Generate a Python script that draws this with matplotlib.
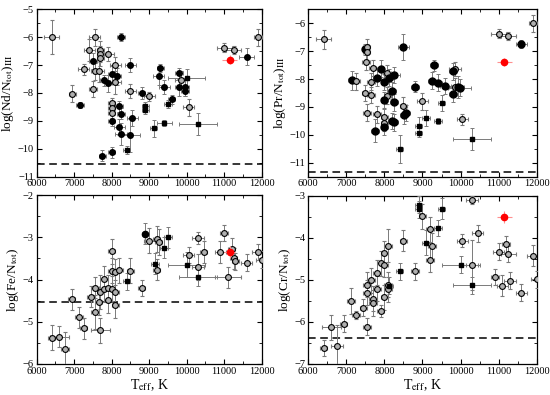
import numpy as np
import matplotlib.pyplot as plt
from matplotlib.ticker import MultipleLocator

plt.rcParams['font.family'] = ['Liberation Serif', 'DejaVu Serif']
plt.rcParams['mathtext.fontset'] = 'stix'

# --- data: Teff, abundance, errors, marker kind ---
# kinds: g = grey circle, b = black circle, s = small black square, r = red circle
nd_teff = [6400, 7550, 8250, 7400, 7700, 7700, 7900, 7700, 7500, 8500, 8100, 7250, 7550, 7650,
           8000, 8150, 7800, 7900, 8100, 7500, 8500, 6950, 7150, 8800, 9000, 8000, 8000, 8000,
           8200, 8250, 8000, 8550, 8200, 8250, 8500, 8400, 8000, 7750, 8900, 8900, 9120, 9300,
           9250, 9800, 9850, 10000, 9400, 9800, 9950, 9950, 9600, 9500, 10050, 9400, 10300,
           11000, 11250, 11150, 11600, 11900]
nd_val = [-6.0, -6.0, -6.0, -6.45, -6.45, -6.6, -6.6, -6.75, -6.85, -7.0, -7.0, -7.15, -7.22, -7.2,
          -7.32, -7.4, -7.55, -7.65, -7.62, -7.86, -7.93, -8.03, -8.43, -8.0, -8.12, -8.37, -8.55, -8.7,
          -8.47, -8.74, -9.0, -8.9, -9.22, -9.47, -9.52, -10.05, -10.13, -10.25, -8.48, -8.6, -9.27, -7.1,
          -7.4, -7.3, -7.52, -7.45, -7.8, -7.8, -7.8, -7.92, -8.23, -8.4, -8.52, -9.08, -9.1,
          -6.37, -6.45, -6.8, -6.7, -6.0]
nd_dt = [200, 150, 100, 150, 100, 100, 150, 100, 100, 150, 150, 150, 100, 150,
         100, 100, 100, 100, 150, 100, 150, 100, 100, 100, 150, 100, 100, 100,
         100, 100, 100, 150, 150, 150, 250, 100, 100, 100, 100, 100, 100, 100,
         150, 100, 150, 500, 150, 100, 100, 100, 100, 100, 150, 200, 500,
         200, 200, 200, 200, 100]
nd_dv = [0.6, 0.3, 0.15, 0.4, 0.3, 0.3, 0.25, 0.3, 0.3, 0.25, 0.3, 0.2, 0.3, 0.4,
         0.3, 0.3, 0.2, 0.3, 0.4, 0.3, 0.25, 0.3, 0.1, 0.2, 0.15, 0.2, 0.2, 0.2,
         0.2, 0.2, 0.2, 0.3, 0.3, 0.4, 0.6, 0.15, 0.2, 0.2, 0.15, 0.15, 0.3, 0.15,
         0.3, 0.2, 0.3, 0.3, 0.25, 0.3, 0.3, 0.2, 0.15, 0.15, 0.3, 0.1, 0.4,
         0.15, 0.15, 0.15, 0.3, 0.3]
nd_kind = list("ggbgggggbbgggg" + "bbbbggggbb" + "ggggbbbbbbb" + "sbbsss" + "bbbgsbbbb" + "bsgssggrbg")

pr_teff = [6400, 8500, 7500, 7530, 7530, 7520, 7690, 7900, 7800, 7150, 7250, 7650, 8000, 8070,
           8120, 8250, 8200, 7500, 7650, 8080, 8000, 8250, 8500, 9000, 8800, 7550, 7800, 8000,
           8570, 8520, 8200, 8250, 8000, 8000, 7750, 8900, 8900, 8400, 9100, 9300, 9250, 9400,
           9600, 9850, 9800, 9800, 9850, 9930, 9980, 9500, 9400, 10050, 10300, 11000, 11250,
           11600, 11150, 11900]
pr_val = [-6.58, -6.85, -6.93, -6.85, -7.03, -7.38, -7.6, -7.63, -7.95, -8.05, -8.08, -8.09, -8.11, -7.8,
          -7.95, -7.86, -8.42, -8.5, -8.57, -8.6, -8.76, -8.83, -8.95, -8.8, -8.28, -9.2, -9.27, -9.35,
          -9.22, -9.3, -9.5, -9.55, -9.58, -9.72, -9.85, -9.67, -9.92, -10.5, -9.4, -7.5, -8.06, -8.13,
          -8.25, -7.63, -7.72, -8.54, -8.28, -8.28, -8.31, -8.86, -9.5, -9.45, -10.15, -6.37, -6.45,
          -6.74, -7.4, -6.0]
pr_dt = [200, 150, 100, 100, 100, 100, 100, 100, 100, 100, 100, 100, 100, 100,
         100, 150, 100, 100, 100, 100, 100, 100, 100, 150, 100, 100, 100, 100,
         100, 100, 100, 100, 100, 100, 100, 100, 100, 100, 100, 100, 100, 100,
         150, 150, 100, 100, 150, 150, 300, 100, 100, 150, 500, 200, 200,
         150, 200, 100]
pr_dv = [0.35, 0.45, 0.2, 0.3, 0.3, 0.3, 0.3, 0.3, 0.3, 0.35, 0.3, 0.3, 0.3, 0.3,
         0.3, 0.3, 0.3, 0.3, 0.3, 0.3, 0.3, 0.3, 0.3, 0.3, 0.2, 0.3, 0.3, 0.3,
         0.3, 0.3, 0.3, 0.3, 0.3, 0.3, 0.4, 0.3, 0.15, 0.5, 0.3, 0.2, 0.3, 0.3,
         0.3, 0.25, 0.3, 0.3, 0.3, 0.4, 0.3, 0.3, 0.1, 0.2, 0.4, 0.15, 0.15,
         0.15, 0.15, 0.3]
pr_kind = list("gbbggggbbb" + "ggbgbbbggg" + "bbggbgggbb" + "bbgbbssssb" + "bbbgbbgbbs" + "sgsggbrg")

fe_teff = [6400, 6600, 6750, 6930, 7130, 7250, 7700, 7550, 7450, 7550, 7700, 7650, 7800, 7800,
           7900, 7900, 8000, 8000, 8000, 8100, 8100, 8100, 8200, 8500, 8400, 8800, 8900, 9000,
           9200, 9250, 9500, 9400, 9150, 9200, 10000, 10050, 10300, 10300, 10300, 10450, 10900,
           11000, 11100, 11200, 11150, 11250, 11300, 11600, 11900, 12000]
fe_val = [-5.38, -5.35, -5.64, -4.47, -4.89, -5.15, -5.2, -4.77, -4.41, -4.19, -4.3, -4.53, -3.98, -4.23,
          -4.2, -4.49, -4.22, -3.33, -3.79, -3.82, -4.3, -4.6, -3.78, -3.79, -4.04, -4.2, -2.92, -3.08,
          -3.04, -3.11, -3.0, -3.25, -3.63, -3.77, -3.65, -3.42, -3.02, -3.7, -3.95, -3.35, -3.35,
          -2.9, -3.95, -3.27, -3.35, -3.5, -3.57, -3.6, -3.35, -3.53]
fe_dt = [100, 250, 100, 100, 100, 100, 250, 100, 100, 100, 100, 100, 100, 100,
         100, 100, 100, 100, 100, 100, 100, 100, 100, 100, 100, 100, 100, 150,
         100, 100, 100, 100, 100, 100, 500, 150, 150, 150, 500, 100, 150,
         100, 350, 100, 150, 100, 100, 150, 150, 150]
fe_dv = [0.3, 0.25, 0.4, 0.25, 0.25, 0.25, 0.3, 0.4, 0.25, 0.25, 0.4, 0.3, 0.3, 0.3,
         0.3, 0.3, 0.3, 0.3, 0.3, 0.3, 0.3, 0.3, 0.3, 0.3, 0.2, 0.2, 0.25, 0.3,
         0.3, 0.3, 0.25, 0.25, 0.25, 0.25, 0.3, 0.2, 0.15, 0.3, 0.2, 0.25, 0.25,
         0.2, 0.25, 0.25, 0.15, 0.25, 0.2, 0.2, 0.2, 0.2]
fe_kind = list("g" * 24 + "sgbggg" + "sssgs" + "ggg" + "s" + "ggggg" + "r" + "ggggg")

cr_teff = [6400, 6600, 6750, 6930, 7130, 7250, 7550, 7450, 7550, 7550, 7650, 7700, 7700, 7800,
           7800, 7900, 7900, 8000, 8000, 8000, 8100, 8100, 8100, 8130, 8500, 8400, 8800, 8900,
           8900, 9000, 9500, 10300, 11150, 9200, 9400, 9100, 9250, 9200, 10050, 10450, 10000,
           10300, 10300, 10900, 11000, 11200, 11250, 11100, 11300, 11600, 11900, 12000]
cr_val = [-6.62, -6.13, -6.56, -6.04, -5.5, -5.83, -6.11, -5.66, -5.3, -5.11, -5.01, -5.45, -5.55, -5.21,
          -4.83, -4.6, -5.74, -4.36, -4.64, -5.41, -4.18, -5.11, -5.22, -5.14, -4.07, -4.79, -4.79, -3.21,
          -3.32, -3.48, -3.3, -3.09, -3.5, -3.79, -3.76, -4.11, -4.19, -4.52, -4.06, -3.89, -4.64,
          -4.64, -5.13, -4.93, -4.33, -4.15, -4.38, -5.14, -5.02, -5.3, -4.42, -4.98]
cr_dt = [100, 250, 150, 100, 100, 100, 100, 100, 100, 100, 100, 100, 100, 100,
         100, 100, 100, 100, 100, 100, 100, 100, 100, 100, 100, 100, 100, 100,
         100, 100, 100, 150, 200, 100, 100, 100, 100, 100, 150, 150, 500,
         150, 500, 100, 150, 100, 200, 150, 150, 150, 150, 150]
cr_dv = [0.2, 0.3, 0.5, 0.2, 0.3, 0.1, 0.2, 0.2, 0.3, 0.3, 0.3, 0.3, 0.3, 0.3,
         0.3, 0.3, 0.15, 0.3, 0.3, 0.3, 0.4, 0.3, 0.3, 0.2, 0.25, 0.2, 0.2, 0.2,
         0.2, 0.3, 0.25, 0.1, 0.15, 0.3, 0.2, 0.3, 0.3, 0.3, 0.15, 0.2, 0.2,
         0.6, 0.2, 0.2, 0.2, 0.2, 0.2, 0.25, 0.2, 0.2, 0.25, 0.2]
cr_kind = list("g" * 23 + "sgsgssgsgrgssgggg" + "sgs" + "g" * 9)

panels = [
    (nd_teff, nd_val, nd_dt, nd_dv, nd_kind, r'log(Nd/N$_{\rm tot}$)$_{\rm III}$', (-11, -5), -10.55, 4),
    (pr_teff, pr_val, pr_dt, pr_dv, pr_kind, r'log(Pr/N$_{\rm tot}$)$_{\rm III}$', (-11.5, -5.5), -11.32, 5),
    (fe_teff, fe_val, fe_dt, fe_dv, fe_kind, r'log(Fe/N$_{\rm tot}$)', (-6, -2), -4.53, 4.5),
    (cr_teff, cr_val, cr_dt, cr_dv, cr_kind, r'log(Cr/N$_{\rm tot}$)', (-7, -3), -6.37, 4.5),
]

boxes = [[0.0667, 0.5527, 0.409, 0.4238], [0.5605, 0.5527, 0.4153, 0.4238],
         [0.0667, 0.0785, 0.409, 0.4278], [0.5605, 0.0785, 0.4153, 0.4253]]

fig = plt.figure(figsize=(5.5, 3.95), dpi=100)
ebar = dict(ecolor='#7a7a7a', elinewidth=0.7, capsize=1.5, capthick=0.7, zorder=3)

for i, (t, v, dt, dv, kind, ylab, ylim, dash, bsize) in enumerate(panels):
    ax = fig.add_axes(boxes[i])
    for j in range(len(t)):
        k = kind[j]
        if k == 'r':
            ax.errorbar(t[j], v[j], xerr=dt[j], yerr=dv[j], fmt='o', ms=4.5, color='red',
                        ecolor='#ff9090', elinewidth=0.8, capsize=0, zorder=4)
        elif k == 'b':
            ax.errorbar(t[j], v[j], xerr=dt[j], yerr=dv[j], fmt='o', ms=bsize, mfc='black', mec='black', **ebar)
        elif k == 's':
            ax.errorbar(t[j], v[j], xerr=dt[j], yerr=dv[j], fmt='s', ms=2.3, mfc='black', mec='black', **ebar)
        else:
            ax.errorbar(t[j], v[j], xerr=dt[j], yerr=dv[j], fmt='o', ms=4.2, mfc='#b0b0b0', mec='black',
                        mew=0.8, **ebar)
    ax.axhline(dash, color='black', ls=(0, (5, 3)), lw=1.1)
    ax.set_xlim(6000, 12000)
    ax.set_ylim(*ylim)
    ax.xaxis.set_major_locator(MultipleLocator(1000))
    ax.xaxis.set_minor_locator(MultipleLocator(500))
    ax.yaxis.set_major_locator(MultipleLocator(1))
    ax.yaxis.set_minor_locator(MultipleLocator(0.5))
    ax.tick_params(which='both', direction='in', top=True, right=True, labelsize=7.5, pad=2)
    ax.tick_params(which='major', length=3.5)
    ax.tick_params(which='minor', length=2)
    ax.set_ylabel(ylab, fontsize=9.5, labelpad=1)
    if i >= 2:
        ax.set_xlabel(r'T$_{\rm eff}$, K', fontsize=10, labelpad=1)
    for s in ax.spines.values():
        s.set_linewidth(0.9)

fig.savefig('out.png', dpi=100)
